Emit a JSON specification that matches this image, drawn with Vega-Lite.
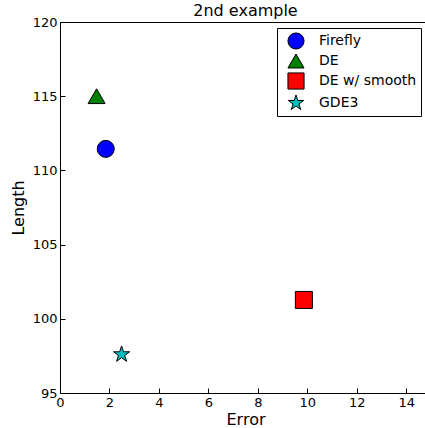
{
  "$schema": "https://vega.github.io/schema/vega-lite/v6.json",
  "autosize": {"type": "none"},
  "padding": {"left": 60, "top": 22, "right": 0, "bottom": 35},
  "width": 371,
  "height": 371,
  "background": "white",
  "config": {
    "font": "DejaVu Sans",
    "view": {"stroke": "black", "strokeWidth": 1},
    "axis": {"grid": false, "domainColor": "black", "tickColor": "black", "labelColor": "black", "titleColor": "black", "labelFont": "DejaVu Sans", "titleFont": "DejaVu Sans", "titleFontWeight": "normal"}
  },
  "title": {"text": "2nd example", "fontSize": 16, "fontWeight": "normal", "font": "DejaVu Sans", "color": "black", "offset": -3, "anchor": "middle"},
  "data": {"values": [
    {"method": "Firefly", "error": 1.85, "length": 111.45},
    {"method": "DE", "error": 1.48, "length": 115.0},
    {"method": "DE w/ smooth", "error": 9.86, "length": 101.27},
    {"method": "GDE3", "error": 2.49, "length": 97.6}
  ]},
  "mark": {"type": "point", "filled": true, "stroke": "black", "strokeWidth": 1, "size": 290, "opacity": 1},
  "encoding": {
    "x": {"field": "error", "type": "quantitative", "scale": {"domain": [0, 15], "nice": false, "zero": false},
          "axis": {"orient": "bottom", "values": [0,2,4,6,8,10,12,14], "tickSize": -5, "labelPadding": 8, "labelFontSize": 13, "title": "Error", "titleFontSize": 16, "titlePadding": 2, "labelFlush": false}},
    "y": {"field": "length", "type": "quantitative", "scale": {"domain": [95, 120], "nice": false, "zero": false},
          "axis": {"values": [95,100,105,110,115,120], "tickSize": -5, "labelPadding": 8, "labelFontSize": 13, "title": "Length", "titleFontSize": 16, "titlePadding": 6}},
    "color": {"field": "method", "type": "nominal",
              "scale": {"domain": ["Firefly", "DE", "DE w/ smooth", "GDE3"], "range": ["#0000ff", "#008000", "#ff0000", "#00bfbf"]},
              "legend": {"title": null, "orient": "none", "legendX": 217, "legendY": 6, "strokeColor": "black", "fillColor": "white", "padding": 4, "labelFontSize": 14, "labelColor": "black", "symbolSize": 260, "symbolStrokeColor": "black", "symbolStrokeWidth": 1, "rowPadding": 0, "labelOffset": 14, "symbolOffset": 6, "cornerRadius": 0}},
    "shape": {"field": "method", "type": "nominal",
              "scale": {"domain": ["Firefly", "DE", "DE w/ smooth", "GDE3"], "range": ["circle", "triangle-up", "square", "M0,-1L0.2245,-0.309L0.951,-0.309L0.363,0.118L0.588,0.809L0,0.382L-0.588,0.809L-0.363,0.118L-0.951,-0.309L-0.2245,-0.309Z"]}}
  }
}
